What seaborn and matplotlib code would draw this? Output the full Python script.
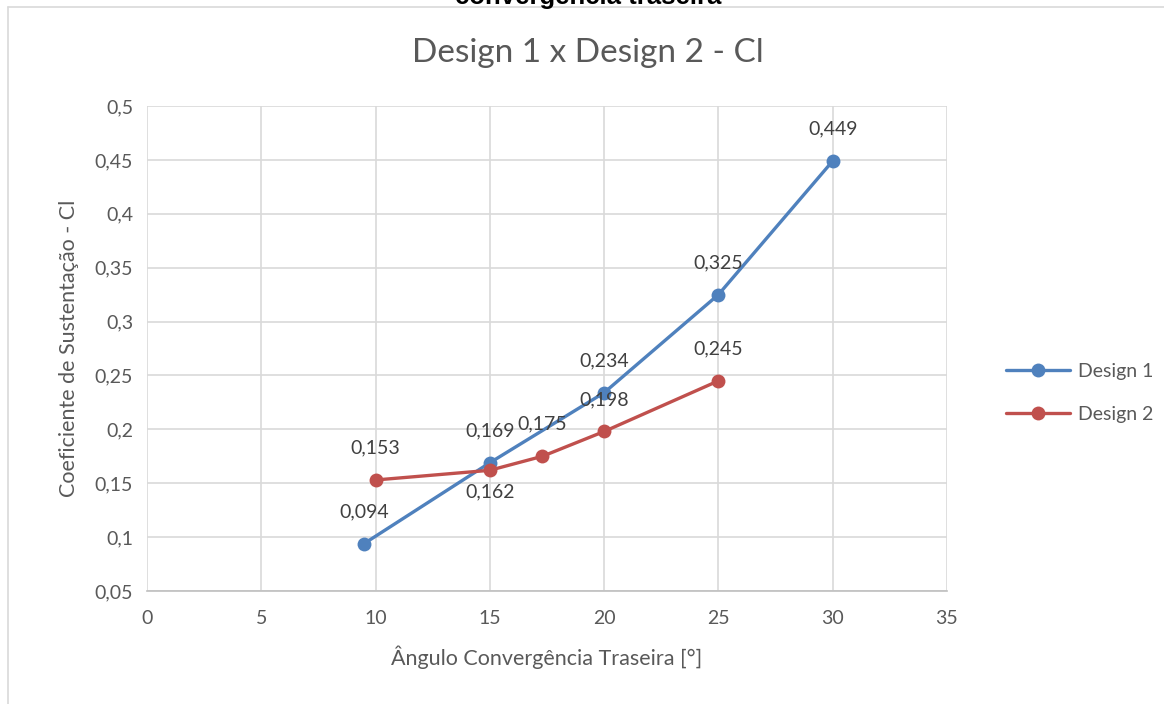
import matplotlib
matplotlib.use("Agg")
import matplotlib.pyplot as plt
import seaborn as sns
import pandas as pd
from matplotlib.lines import Line2D

# Data
angle_d1 = [9.5, 15, 20, 25, 30]
cl_d1 = [0.094, 0.169, 0.234, 0.325, 0.449]
angle_d2 = [10, 15, 17.3, 20, 25]
cl_d2 = [0.153, 0.162, 0.175, 0.198, 0.245]
series_names = ["Design 1", "Design 2"]
x_ticks = [0, 5, 10, 15, 20, 25, 30, 35]
y_ticks = [0.05, 0.1, 0.15, 0.2, 0.25, 0.3, 0.35, 0.4, 0.45, 0.5]

df = pd.DataFrame({
    "angle": angle_d1 + angle_d2,
    "cl": cl_d1 + cl_d2,
    "serie": [series_names[0]] * len(angle_d1) + [series_names[1]] * len(angle_d2),
})

sns.set_theme(style="white")
plt.rcParams["font.family"] = ["Lato", "DejaVu Sans"]

TXT = "#595959"
colors = {"Design 1": "#4F81BD", "Design 2": "#C0504D"}

fig = plt.figure(figsize=(11.64, 7.04), dpi=100)
ax = fig.add_axes([147 / 1164, 1 - 591 / 704, 800 / 1164, 485 / 704])

sns.lineplot(data=df, x="angle", y="cl", hue="serie", palette=colors, marker="o",
             markersize=10, markeredgewidth=0, linewidth=2.4, sort=False,
             legend=False, ax=ax, zorder=3)

ax.set_xlim(0, 35)
ax.set_ylim(0.05, 0.5)
ax.set_xticks(x_ticks)
ax.set_yticks(y_ticks)
ax.set_xticklabels([str(v) for v in x_ticks])
ax.set_yticklabels([f"{v:g}".replace(".", ",") for v in y_ticks])
ax.tick_params(axis="both", length=0, labelsize=14, colors=TXT)
ax.tick_params(axis="x", pad=14)
ax.tick_params(axis="y", pad=10)
ax.grid(True, color="#D9D9D9", linewidth=1.2)
ax.set_axisbelow(True)
for s in ["top", "right", "left"]:
    ax.spines[s].set_visible(False)
ax.spines["bottom"].set_color("#BFBFBF")
ax.spines["bottom"].set_linewidth(1.2)

ax.set_xlabel("Ângulo Convergência Traseira [°]", fontsize=15.5, color=TXT, labelpad=13)
ax.set_ylabel("Coeficiente de Sustentação - Cl", fontsize=15.5, color=TXT, labelpad=11)

# Data labels
def fmt(v):
    return f"{v:.3f}".replace(".", ",")

d1_offsets = [(0, 32), (0, 32), (0, 32), (0, 32), (0, 32)]
d2_offsets = [(0, 32), (0, -22), (0, 32), (0, 32), (0, 32)]
for xs, ys, offs in [(angle_d1, cl_d1, d1_offsets), (angle_d2, cl_d2, d2_offsets)]:
    for x, y, (dx, dy) in zip(xs, ys, offs):
        ax.annotate(fmt(y), (x, y), xytext=(dx, dy), textcoords="offset pixels",
                    ha="center", va="center", fontsize=14, color="#404040", zorder=5)

fig.text(588 / 1164, 1 - 53 / 704, "Design 1 x Design 2 - Cl", ha="center", va="center",
         fontsize=24, color=TXT)

# Partially visible heading above the chart area
fig.text(588 / 1164, 1 - 4 / 704, "convergência traseira", ha="center", va="baseline",
         fontsize=18.5, fontweight="bold", color="black", family="Liberation Sans")

# Chart area border
fig.add_artist(Line2D([8 / 1164, 1], [1 - 7 / 704, 1 - 7 / 704], transform=fig.transFigure,
                      color="#D9D9D9", linewidth=1.2))
fig.add_artist(Line2D([8 / 1164, 8 / 1164], [0, 1 - 7 / 704], transform=fig.transFigure,
                      color="#D9D9D9", linewidth=1.2))

handles = [Line2D([], [], color=colors[n], marker="o", markersize=10, markeredgewidth=0,
                  linewidth=2.4) for n in series_names]
fig.legend(handles, series_names, loc="center left",
           bbox_to_anchor=(988 / 1164, 1 - 393 / 704), frameon=False, fontsize=14,
           labelcolor=TXT, handlelength=3.3, handletextpad=0.45, labelspacing=1.35)

fig.savefig("out.png", dpi=100, facecolor="white")
